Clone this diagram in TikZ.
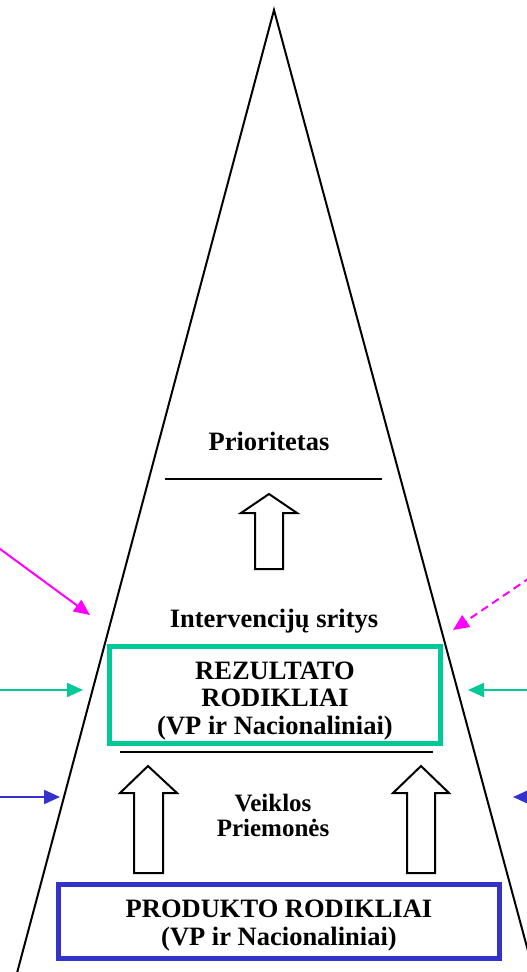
\documentclass[tikz,border=0pt]{standalone}
\usepackage{fontspec}
\setmainfont{Liberation Serif}
\usetikzlibrary{arrows.meta}
\definecolor{mag}{RGB}{255,0,255}
\definecolor{grn}{RGB}{0,200,150}
\definecolor{blu}{RGB}{51,51,204}
\begin{document}
\begin{tikzpicture}[x=1pt,y=-1pt,
  lbl/.style={font=\fontsize{26.5}{27.5}\selectfont\bfseries, align=center, inner sep=0pt},
  smalllbl/.style={font=\fontsize{25}{23}\selectfont\bfseries, align=center, inner sep=0pt},
  rule/.style={line width=2pt},
  hollowarrow/.style={draw=black, fill=white, line width=2pt, line join=miter},
  sidearrow/.style={line width=2pt, -{Triangle[length=16pt,width=14pt]}},
  indbox/.style={draw, line width=5pt, inner sep=0pt}
]
\useasboundingbox (0,0) rectangle (527,972);
\clip (0,0) rectangle (527,972);
\fill[white] (0,0) rectangle (527,972);
% pyramid
\coordinate (apex) at (274,10);
\coordinate (bl) at (14.6,982);
\coordinate (br) at (536.4,982);
\draw[line width=2pt] (bl) -- (apex) -- (br);
% Prioritetas
\node[lbl, anchor=base] (prio) at (269,450) {Prioritetas};
\coordinate (r1a) at (165,479);
\coordinate (r1b) at (382,479);
\draw[rule] (r1a) -- (r1b);
% upper hollow arrow
\draw[hollowarrow] (269,494) -- (297,513) -- (283,513) -- (283,569) -- (255,569) -- (255,513) -- (241,513) -- cycle;
% Intervenciju sritys
\node[lbl, anchor=base] (interv) at (274,627) {Intervencijų sritys};
% green box
\node[indbox, draw=grn, minimum width=331pt, minimum height=97pt] (rez) at (275,695) {};
\node[lbl] (reztext) at ([yshift=-6pt]rez.center) {REZULTATO\\RODIKLIAI\\(VP ir Nacionaliniai)};
\coordinate (r2a) at (120,752);
\coordinate (r2b) at (433,752);
\draw[rule] (r2a) -- (r2b);
% lower hollow arrows
\draw[hollowarrow] (148,766) -- (177,793) -- (163,793) -- (163,873) -- (134,873) -- (134,793) -- (120,793) -- cycle;
\draw[hollowarrow] (421,766) -- (449,793) -- (435,793) -- (435,873) -- (407,873) -- (407,793) -- (393,793) -- cycle;
% Veiklos Priemones
\node[smalllbl, anchor=base] (veik) at (273,811) {Veiklos};
\node[smalllbl, anchor=base] (priem) at (273,836) {Priemonės};
% blue box
\node[indbox, draw=blu, minimum width=441pt, minimum height=74pt] (prod) at (279,921.5) {};
\node[lbl] (prodtext) at ([yshift=-4pt]prod.center) {PRODUKTO RODIKLIAI\\(VP ir Nacionaliniai)};
% side arrows
\coordinate (mL0) at (-4,546);
\coordinate (mL1) at (90,615);
\coordinate (mR0) at (531,577);
\coordinate (mR1) at (453,630);
\coordinate (gL0) at (-2,690);
\coordinate (gL1) at (83,690);
\coordinate (gR0) at (529,690);
\coordinate (gR1) at (468,690);
\coordinate (bL0) at (-2,797);
\coordinate (bL1) at (60,797);
\coordinate (bR0) at (540,797);
\coordinate (bR1) at (513,797);
\draw[sidearrow, mag] (mL0) -- (mL1);
\draw[sidearrow, mag, dash pattern=on 8pt off 5pt] (mR0) -- (mR1);
\draw[sidearrow, grn] (gL0) -- (gL1);
\draw[sidearrow, grn] (gR0) -- (gR1);
\draw[sidearrow, blu] (bL0) -- (bL1);
\draw[sidearrow, blu] (bR0) -- (bR1);
\end{tikzpicture}
\end{document}
